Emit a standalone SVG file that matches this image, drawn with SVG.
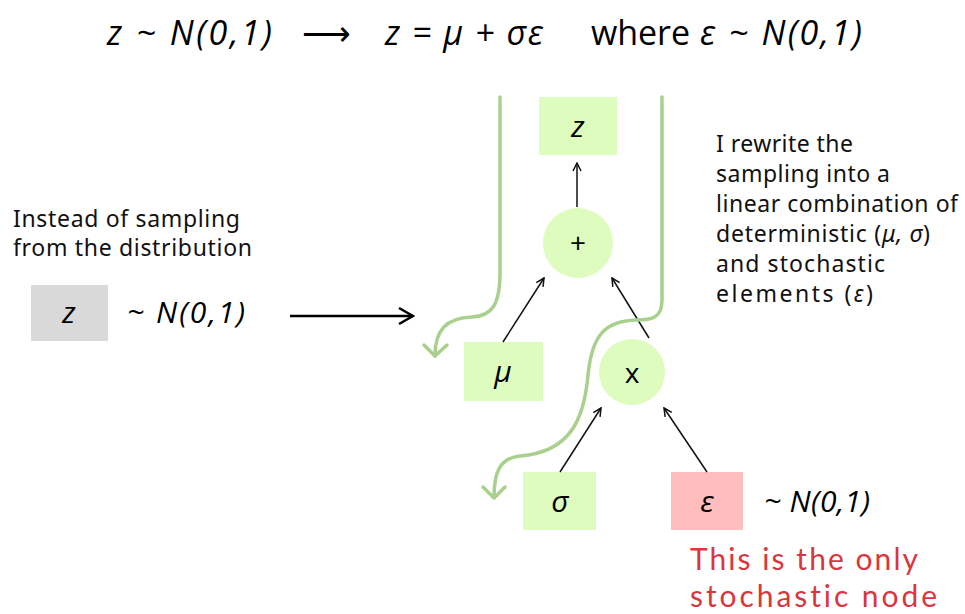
<svg xmlns="http://www.w3.org/2000/svg" width="965" height="614" viewBox="0 0 965 614">
<style>
.m{font-family:"Open Sans","Liberation Sans",sans-serif;font-style:italic;fill:#000}
.t{font-family:"Noto Sans","Open Sans",sans-serif;font-size:23px;fill:#111}
.g{fill:#ddfcbe}
.e{stroke:#111;stroke-width:1.5;fill:none}
.c{stroke:#a9d18e;stroke-width:3.5;fill:none;stroke-linecap:round;stroke-linejoin:round}
#note text{font-variant-ligatures:none;font-feature-settings:"liga" 0,"dlig" 0}
</style>
<defs>
<marker id="ah" viewBox="0 0 10 10" refX="9" refY="5" markerWidth="10" markerHeight="10" markerUnits="userSpaceOnUse" orient="auto">
<path d="M1,1 L9,5 L1,9" fill="none" stroke="#111" stroke-width="1.5"/>
</marker>
<marker id="ahb" viewBox="0 0 20 20" refX="18" refY="10" markerWidth="20" markerHeight="20" markerUnits="userSpaceOnUse" orient="auto">
<path d="M4,2 L18,10 L4,18" fill="none" stroke="#000" stroke-width="2.5"/>
</marker>
</defs>
<g id="title" class="m" font-size="34">
<text x="107" y="45" textLength="165" lengthAdjust="spacing">z ~ N(0,1)</text>
<text x="302" y="45" style="font-style:normal">⟶</text>
<text x="385" y="45" textLength="158" lengthAdjust="spacing">z = μ + σε</text>
<text x="591" y="45" style="font-style:normal" textLength="99" lengthAdjust="spacing">where</text>
<text x="700" y="45" textLength="162" lengthAdjust="spacing">ε ~ N(0,1)</text>
</g>
<g id="left-text" class="t">
<text x="13" y="227" textLength="227" lengthAdjust="spacing">Instead of sampling</text>
<text x="13" y="256" textLength="239" lengthAdjust="spacing">from the distribution</text>
</g>
<g id="node-z-dist">
<rect x="31" y="285" width="77" height="56" fill="#d9d9d9"/>
<text x="69" y="323" class="m" font-size="30" text-anchor="middle">z</text>
<text x="127" y="323" class="m" font-size="30" textLength="118" lengthAdjust="spacing">~ N(0,1)</text>
</g>
<g id="right-text" class="t">
<text x="716" y="152" textLength="137" lengthAdjust="spacing">I rewrite the</text>
<text x="716" y="182" textLength="174" lengthAdjust="spacing">sampling into a</text>
<text x="716" y="212" textLength="242" lengthAdjust="spacing">linear combination of</text>
<text x="716" y="242" textLength="214" lengthAdjust="spacing">deterministic (<tspan font-style="italic">μ, σ</tspan>)</text>
<text x="716" y="272" textLength="169" lengthAdjust="spacing">and stochastic</text>
<text x="716" y="302" textLength="157" lengthAdjust="spacing">elements (<tspan font-style="italic">ε</tspan>)</text>
</g>
<g id="node-z">
<rect class="g" x="539" y="97" width="78" height="58"/>
<text x="578" y="137" class="m" font-size="30" text-anchor="middle">z</text>
</g>
<g id="node-plus">
<circle class="g" cx="578" cy="243" r="35"/>
<text x="578" y="253" font-family="Open Sans, sans-serif" font-size="28" text-anchor="middle">+</text>
</g>
<g id="node-mu">
<rect class="g" x="464" y="342" width="79" height="59"/>
<text x="503" y="382" class="m" font-size="30" text-anchor="middle">μ</text>
</g>
<g id="node-times">
<circle class="g" cx="632" cy="372" r="33"/>
<text x="632" y="383" font-family="Open Sans, sans-serif" font-size="28" text-anchor="middle">x</text>
</g>
<g id="node-sigma">
<rect class="g" x="523" y="472" width="73" height="58"/>
<text x="560" y="512" class="m" font-size="30" text-anchor="middle">σ</text>
</g>
<g id="node-eps">
<rect x="671" y="472" width="72" height="58" fill="#ffbdbd"/>
<text x="707" y="512" class="m" font-size="30" text-anchor="middle">ε</text>
<text x="764" y="512" class="m" font-size="30" textLength="106" lengthAdjust="spacing">~ N(0,1)</text>
</g>
<g id="note" font-family="Lato, Noto Sans, sans-serif" font-size="30" fill="#d9363e">
<text x="690" y="570" textLength="228" lengthAdjust="spacing">This is the only</text>
<text x="690" y="607" textLength="247" lengthAdjust="spacing">stochastic node</text>
</g>
<g id="connectors">
<line class="e" x1="577" y1="207" x2="577" y2="163" marker-end="url(#ah)"/>
<line class="e" x1="503" y1="342" x2="544" y2="278" marker-end="url(#ah)"/>
<line class="e" x1="649" y1="338" x2="612" y2="278" marker-end="url(#ah)"/>
<line class="e" x1="560" y1="472" x2="601" y2="408" marker-end="url(#ah)"/>
<line class="e" x1="707" y1="472" x2="664" y2="408" marker-end="url(#ah)"/>
<line x1="290" y1="316" x2="413" y2="316" stroke="#000" stroke-width="2.5" marker-end="url(#ahb)"/>
<path class="c" d="M500,97 L500,272 C500,305 492,316 472,317 C446,318 435,330 435,356"/>
<path class="c" d="M424,345 L435,356 L447,345"/>
<path class="c" d="M662,97 L662,300 C662,318 652,320 636,320 C605,321 592,335 588,375 C584,420 570,452 520,456 C500,458 494,472 494,497"/>
<path class="c" d="M483,487 L494,498 L505,487"/>
</g>
</svg>
